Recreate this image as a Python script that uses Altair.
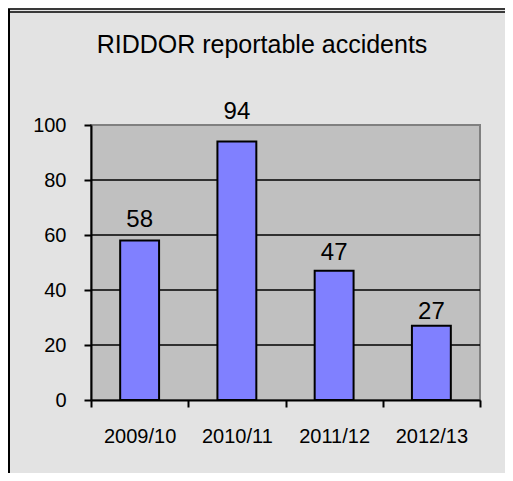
import altair as alt
import pandas as pd

seasons = ["2009/10", "2010/11", "2011/12", "2012/13"]
accidents = [58, 94, 47, 27]
grid_values = [20, 40, 60, 80]
y_ticks = [0, 20, 40, 60, 80, 100]
title_text = ["RIDDOR reportable accidents"]
border_rows = ["outer", "inner"]

df = pd.DataFrame({"season": seasons, "accidents": accidents})
grid_df = pd.DataFrame({"v": grid_values})
title_df = pd.DataFrame({"t": title_text})

W, H = 389, 275
FONT = "Liberation Sans"
yscale = alt.Scale(domain=[0, 100], nice=False)
xscale = alt.Scale(domain=seasons, paddingInner=0, paddingOuter=0)

x_axis = alt.Axis(labelAngle=0, labelFont=FONT, labelFontSize=20, labelColor="black",
                  tickBand="extent", tickSize=7, tickWidth=2, tickColor="black",
                  domainColor="black", domainWidth=2, labelPadding=19, grid=False,
                  title=None)
y_axis = alt.Axis(values=y_ticks, labelFont=FONT, labelFontSize=20, labelColor="black",
                  tickSize=7, tickWidth=2, tickColor="black", domainColor="black",
                  domainWidth=2, labelPadding=18, grid=False, title=None)

grid = alt.Chart(grid_df).mark_rule(color="black", strokeWidth=1.5).encode(
    y=alt.Y("v:Q", scale=yscale, axis=y_axis)
)

bars = alt.Chart(df).mark_bar(color="#8080ff", stroke="black", strokeWidth=2,
                              width=alt.RelativeBandSize(0.4)).encode(
    x=alt.X("season:N", sort=seasons, scale=xscale, axis=x_axis),
    y=alt.Y("accidents:Q", scale=yscale, axis=y_axis),
)

labels = alt.Chart(df).transform_calculate(
    label_pos="datum.accidents * 1.087"
).mark_text(font=FONT, fontSize=24, baseline="alphabetic", align="center", color="black").encode(
    x=alt.X("season:N", sort=seasons, scale=xscale, axis=x_axis),
    y=alt.Y("label_pos:Q", scale=yscale, axis=y_axis),
    text=alt.Text("accidents:Q"),
)

title = alt.Chart(title_df).mark_text(font=FONT, fontSize=25, baseline="alphabetic",
                                       align="center", color="black").encode(
    text="t:N", x=alt.value(171), y=alt.value(-72)
)

left_border = alt.Chart(title_df).mark_rule(color="black", strokeWidth=2).encode(
    x=alt.value(-82), y=alt.value(-116), y2=alt.value(H + 73)
)
top_border1 = alt.Chart(title_df).mark_rule(color="black", strokeWidth=1.5).encode(
    x=alt.value(-83), x2=alt.value(W + 25), y=alt.value(-116)
)
top_border2 = alt.Chart(title_df).mark_rule(color="black", strokeWidth=1.5).encode(
    x=alt.value(-83), x2=alt.value(W + 25), y=alt.value(-113)
)

chart = alt.layer(grid, bars, labels, title, left_border, top_border1, top_border2).properties(
    width=W, height=H,
    autosize=alt.AutoSizeParams(type="none"),
    padding={"left": 83, "top": 117, "right": 25, "bottom": 73},
    background="#e3e3e3",
).configure_view(
    fill="#c0c0c0", stroke="#808080", strokeWidth=2
)

chart.save("out.html", embed_options={"renderer": "svg", "actions": False})
